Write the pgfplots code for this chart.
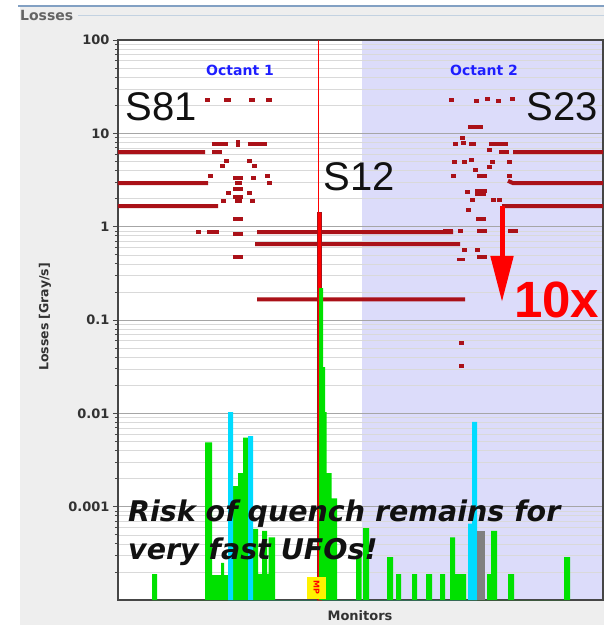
\documentclass[border=0pt]{standalone}
\usepackage{fontspec}
\setmainfont{DejaVu Sans}
\newfontfamily\lib{Liberation Sans}
\usepackage{pgfplots}
\pgfplotsset{compat=1.18}
\usetikzlibrary{arrows.meta}
\definecolor{panel}{RGB}{238,238,238}
\definecolor{lav}{RGB}{220,220,250}
\definecolor{dred}{RGB}{170,17,24}
\definecolor{bgreen}{RGB}{0,225,0}
\definecolor{bcyan}{RGB}{0,220,255}
\definecolor{octblue}{RGB}{30,30,255}
\definecolor{axgray}{RGB}{70,70,70}
\definecolor{tickgray}{RGB}{50,50,50}
\definecolor{titlegray}{RGB}{100,100,100}
\definecolor{borderblue}{RGB}{130,160,195}
\definecolor{lineblue}{RGB}{195,210,225}
\definecolor{textblack}{RGB}{17,17,17}

\pgfplotstableread{
x v
152 1.89e-4
157 1e-4
205 0.0049
212 1.85e-4
221 2.5e-4
224 1.85e-4
228 1e-4
233 0.00166
238 0.00229
243 0.0055
248 1e-4
253 5.8e-4
258 1.9e-4
262 5.5e-4
267 1.9e-4
268.5 4.7e-4
275 1e-4
318 0.22
323 0.0313
325 0.0103
326.5 0.00229
331.5 0.00123
337 1e-4
356 3e-4
361.5 1e-4
363 5.9e-4
369 1e-4
387 2.88e-4
393 1e-4
396 1.89e-4
401 1e-4
412 1.89e-4
417 1e-4
426 1.89e-4
432 1e-4
440 1.89e-4
445 1e-4
450 4.7e-4
455 1.89e-4
466 1e-4
487 1.89e-4
491 5.5e-4
497 1e-4
508 1.89e-4
514 1e-4
564 2.88e-4
570 1e-4
}\greentab

\pgfplotstableread{
x v
228 0.0103
233 1e-4
248 0.0057
253 1e-4
468 6.6e-4
472 0.0081
477 1e-4
}\cyantab

\pgfplotstableread{
x v
477 5.5e-4
485 1e-4
}\graytab

\pgfplotstableread{
x v
317 1.43
321 1e-4
}\redbartab

\begin{document}
\begin{tikzpicture}
\fill[white] (0pt,0pt) rectangle (604pt,625pt);
\fill[panel] (20pt,0pt) rectangle (604pt,619pt);
\draw[borderblue, line width=1.2pt] (18pt,619pt) -- (604pt,619pt);
\draw[lineblue, line width=1pt] (78pt,609pt) -- (604pt,609pt);
\node[anchor=west, inner sep=0pt, font=\bfseries\fontsize{14}{14}\selectfont, text=titlegray] at (20pt,610pt) {Losses};
\fill[white] (118pt,25pt) rectangle (603pt,585pt);
\fill[lav] (362pt,25pt) rectangle (603pt,585pt);

\begin{axis}[
  at={(118pt,25pt)}, anchor=south west, scale only axis,
  width=485pt, height=560pt,
  xmin=118, xmax=603, ymin=1e-4, ymax=100,
  ymode=log, log origin y=infty,
  xtick=\empty,
  ytick={0.001,0.01,0.1,1,10,100},
  yticklabels={0.001,0.01,0.1,1,10,100},
  minor ytick={0.0002,0.0003,0.0004,0.0005,0.0006,0.0007,0.0008,0.0009,0.002,0.003,0.004,0.005,0.006,0.007,0.008,0.009,0.02,0.03,0.04,0.05,0.06,0.07,0.08,0.09,0.2,0.3,0.4,0.5,0.6,0.7,0.8,0.9,2,3,4,5,6,7,8,9,20,30,40,50,60,70,80,90},
  ymajorgrids, yminorgrids,
  major grid style={black!35, line width=0.6pt},
  minor grid style={black!15, line width=0.5pt},
  tick align=outside, major tick length=5pt, minor tick length=3pt,
  tick style={axgray, line width=0.8pt},
  axis line style={axgray, line width=1.3pt},
  yticklabel style={font=\bfseries\fontsize{13}{13}\selectfont, text=tickgray},
  unbounded coords=jump,
]
% long threshold lines
\addplot[dred, line width=4pt] coordinates {
(118,6.3) (205,6.3) (nan,nan)
(118,2.93) (208,2.93) (nan,nan)
(118,1.66) (218,1.66) (nan,nan)
(513,6.3) (603,6.3) (nan,nan)
(508,3.1) (513,2.93) (603,2.93) (nan,nan)
(502,1.66) (603,1.66) (nan,nan)
(257,0.875) (453,0.875) (nan,nan)
(255,0.651) (460,0.651) (nan,nan)
(257,0.166) (465,0.166)
};
% thick red bar
\addplot[ybar interval, fill=red, draw=dred, line width=0.8pt] table[x=x,y=v] {\redbartab};
% bars
\addplot[ybar interval, fill=bgreen, draw=none] table[x=x,y=v] {\greentab};
\addplot[ybar interval, fill=bcyan, draw=none] table[x=x,y=v] {\cyantab};
\addplot[ybar interval, fill=gray, draw=none] table[x=x,y=v] {\graytab};
% thin vertical red line
\draw[red, line width=1pt] (axis cs:318,1e-4) -- (axis cs:318,100);
% short dashes
\addplot[dred, line width=3.5pt] coordinates {
(205,22.7) (210,22.7) (nan,nan)
(224,22.7) (231,22.7) (nan,nan)
(249,22.7) (255,22.7) (nan,nan)
(266,22.7) (272,22.7) (nan,nan)
(212,7.68) (228,7.68) (nan,nan)
(238,7.2) (238,8.5) (nan,nan)
(248,7.68) (267,7.68) (nan,nan)
(212,6.3) (222,6.3) (nan,nan)
(224,5.05) (229,5.05) (nan,nan)
(247,5.05) (252,5.05) (nan,nan)
(220,4.46) (225,4.46) (nan,nan)
(252,4.46) (257,4.46) (nan,nan)
(208,3.49) (213,3.49) (nan,nan)
(265,3.49) (270,3.49) (nan,nan)
(233,3.32) (243,3.32) (nan,nan)
(251,3.32) (256,3.32) (nan,nan)
(267,2.93) (272,2.93) (nan,nan)
(235,2.93) (242,2.93) (nan,nan)
(233,2.53) (243,2.53) (nan,nan)
(226,2.29) (231,2.29) (nan,nan)
(247,2.29) (252,2.29) (nan,nan)
(233,2.08) (243,2.08) (nan,nan)
(221,1.88) (226,1.88) (nan,nan)
(250,1.88) (255,1.88) (nan,nan)
(235,1.88) (242,1.88) (nan,nan)
(233,1.21) (243,1.21) (nan,nan)
(196,0.875) (201,0.875) (nan,nan)
(207,0.875) (219,0.875) (nan,nan)
(233,0.833) (243,0.833) (nan,nan)
(233,0.472) (243,0.472) (nan,nan)
(449,22.7) (454,22.7) (nan,nan)
(474,22.2) (479,22.2) (nan,nan)
(485,23.3) (490,23.3) (nan,nan)
(496,22.2) (501,22.2) (nan,nan)
(510,23.3) (515,23.3) (nan,nan)
(468,11.7) (483,11.7) (nan,nan)
(460,8.9) (465,8.9) (nan,nan)
(453,7.68) (458,7.68) (nan,nan)
(461,7.9) (466,7.9) (nan,nan)
(469,7.68) (476,7.68) (nan,nan)
(489,7.68) (508,7.68) (nan,nan)
(487,6.62) (492,6.62) (nan,nan)
(499,6.3) (509,6.3) (nan,nan)
(452,4.93) (457,4.93) (nan,nan)
(462,4.93) (467,4.93) (nan,nan)
(469,5.2) (474,5.2) (nan,nan)
(490,4.93) (495,4.93) (nan,nan)
(507,4.93) (512,4.93) (nan,nan)
(487,4.35) (492,4.35) (nan,nan)
(473,4.04) (478,4.04) (nan,nan)
(451,3.49) (456,3.49) (nan,nan)
(477,3.49) (487,3.49) (nan,nan)
(507,3.49) (512,3.49) (nan,nan)
(465,2.35) (470,2.35) (nan,nan)
(475,2.4) (487,2.4) (nan,nan)
(475,2.2) (486,2.2) (nan,nan)
(470,1.93) (475,1.93) (nan,nan)
(491,1.93) (496,1.93) (nan,nan)
(497,1.93) (502,1.93) (nan,nan)
(466,1.51) (471,1.51) (nan,nan)
(476,1.21) (486,1.21) (nan,nan)
(443,0.9) (453,0.9) (nan,nan)
(458,0.9) (463,0.9) (nan,nan)
(477,0.9) (487,0.9) (nan,nan)
(508,0.9) (518,0.9) (nan,nan)
(462,0.561) (467,0.561) (nan,nan)
(475,0.561) (480,0.561) (nan,nan)
(457,0.445) (465,0.445) (nan,nan)
(477,0.472) (487,0.472) (nan,nan)
(459,0.0565) (464,0.0565) (nan,nan)
(459,0.032) (464,0.032)
};
% arrow
\draw[red, line width=5pt, -{Triangle[width=22pt,length=46pt]}] (axis cs:502,1.66) -- (axis cs:502,0.156);
% MP marker
\fill[yellow] (axis cs:307,1.03e-4) rectangle (axis cs:326,1.755e-4);
\node[rotate=-90, text=red, font=\bfseries\fontsize{8}{8}\selectfont, inner sep=0pt] at (axis cs:316.5,1.35e-4) {MP};
\end{axis}

% labels
\node[rotate=90, font=\bfseries\fontsize{12.5}{12.5}\selectfont, text=tickgray] at (45pt,308pt) {Losses [Gray/s]};
\node[font=\bfseries\fontsize{13}{13}\selectfont, text=tickgray] at (360pt,9pt) {Monitors};
\node[font=\bfseries\fontsize{14}{14}\selectfont, text=octblue, anchor=base, inner sep=0pt] at (240pt,549pt) {Octant 1};
\node[font=\bfseries\fontsize{14}{14}\selectfont, text=octblue, anchor=base, inner sep=0pt] at (484pt,549pt) {Octant 2};
\node[font=\lib\fontsize{40}{40}\selectfont, text=textblack, anchor=base, inner sep=0pt] at (161pt,504pt) {S81};
\node[font=\lib\fontsize{40}{40}\selectfont, text=textblack, anchor=base, inner sep=0pt] at (359pt,434pt) {S12};
\node[font=\lib\fontsize{40}{40}\selectfont, text=textblack, anchor=base, inner sep=0pt] at (562pt,504pt) {S23};
\node[font=\lib\bfseries\fontsize{51}{51}\selectfont, text=red, anchor=base west, inner sep=0pt] at (514pt,307pt) {10x};
\node[font=\bfseries\itshape\fontsize{28.5}{28.5}\selectfont, text=textblack, anchor=base west, inner sep=0pt] at (128pt,103pt) {Risk of quench remains for};
\node[font=\bfseries\itshape\fontsize{28.5}{28.5}\selectfont, text=textblack, anchor=base west, inner sep=0pt] at (128pt,65pt) {very fast UFOs!};
\pgfresetboundingbox
\path[use as bounding box] (0pt,0pt) rectangle (604pt,625pt);
\end{tikzpicture}
\end{document}
